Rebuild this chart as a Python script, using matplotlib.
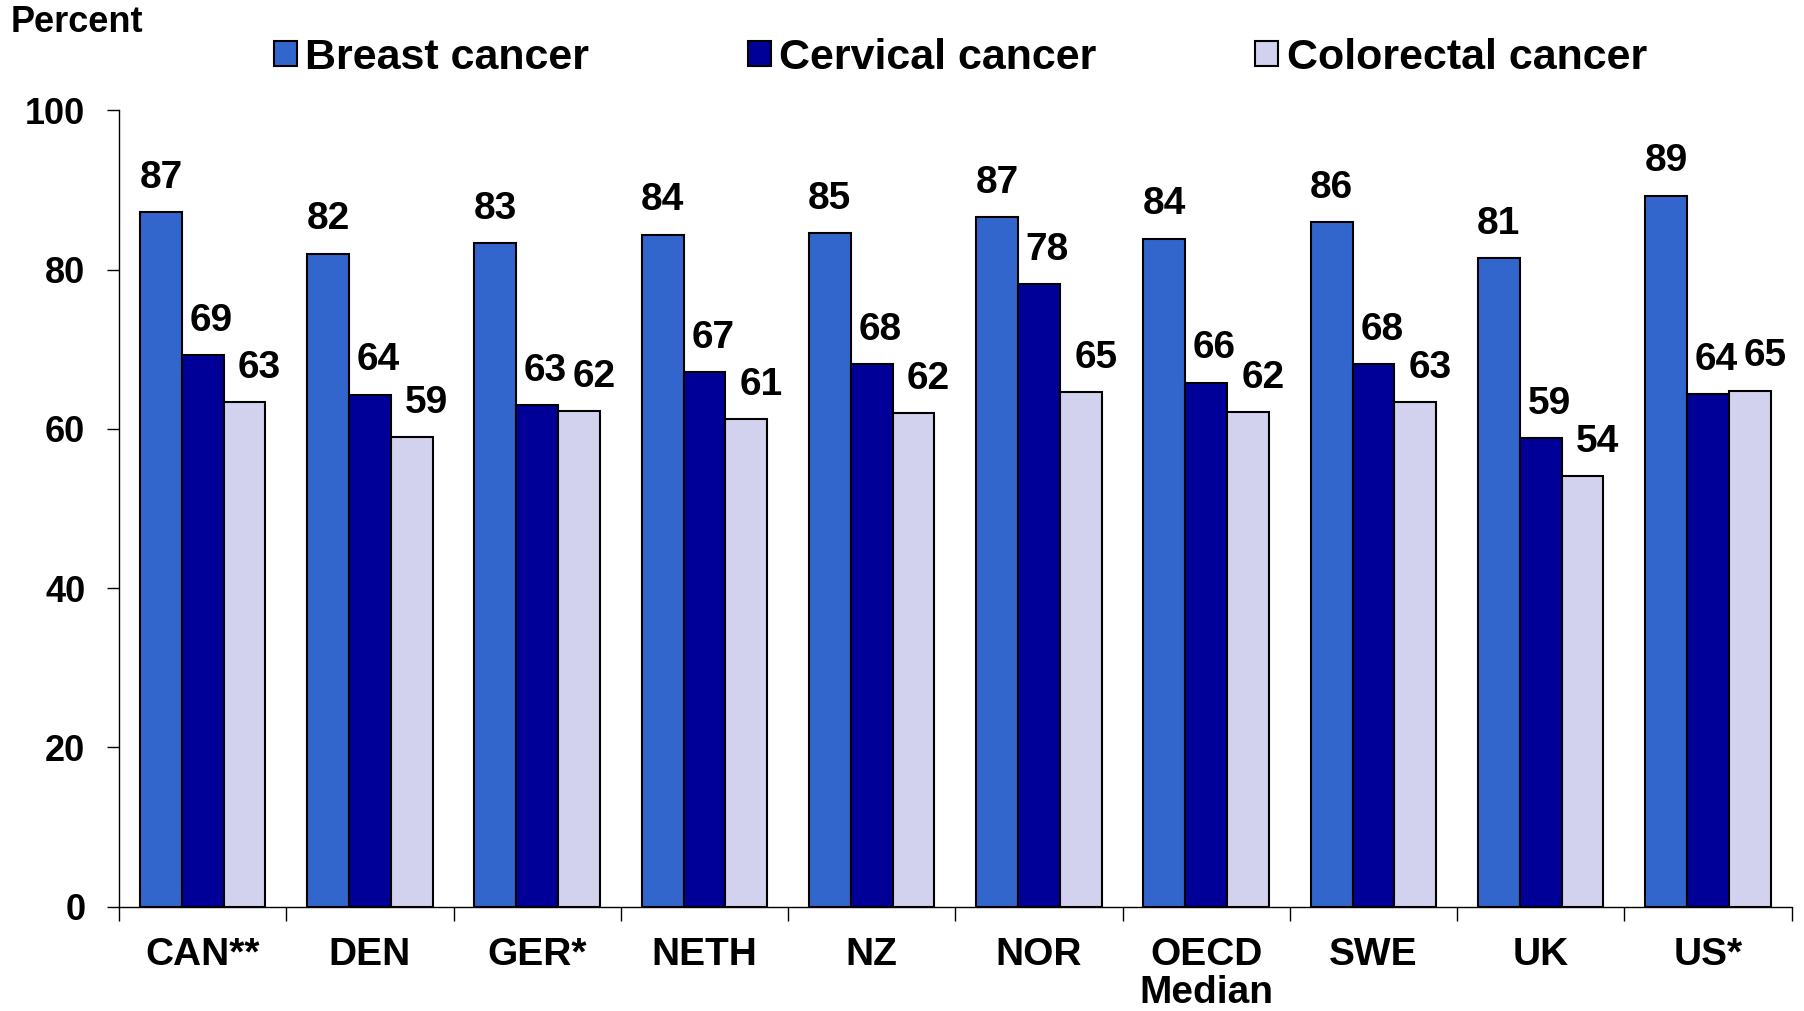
import matplotlib
matplotlib.use('Agg')
import matplotlib.pyplot as plt
import numpy as np
from matplotlib.patches import Patch

plt.rcParams['font.family'] = ['Liberation Sans', 'DejaVu Sans']
plt.rcParams['font.weight'] = 'bold'

countries = ['CAN**', 'DEN', 'GER*', 'NETH', 'NZ', 'NOR', 'OECD\nMedian', 'SWE', 'UK', 'US*']
breast = [87.2, 82.0, 83.3, 84.4, 84.6, 86.6, 83.9, 86.0, 81.4, 89.3]
cervical = [69.3, 64.3, 63.0, 67.1, 68.1, 78.2, 65.8, 68.1, 58.8, 64.4]
colorectal = [63.4, 59.0, 62.2, 61.2, 62.0, 64.6, 62.1, 63.4, 54.1, 64.8]
series_names = ['Breast cancer', 'Cervical cancer', 'Colorectal cancer']
yticks = [0, 20, 40, 60, 80, 100]

colors = ['#3366CC', '#000099', '#D2D2EE']

fig = plt.figure(figsize=(18.04, 10.11), dpi=100)
ax = fig.add_axes([0.066, 0.1033, 0.9271, 0.7875])

x = np.arange(len(countries))
w = 0.25
label_dx = [0.0, 0.05, 0.09]
for k, (vals, col) in enumerate(zip([breast, cervical, colorectal], colors)):
    xs = x + (k - 1) * w
    ax.bar(xs, vals, w, color=col, edgecolor='black', linewidth=1.5)
    for xi, v in zip(xs, vals):
        ax.text(xi + label_dx[k], v + 4.3, f'{v:.0f}', ha='center', va='center',
                fontsize=28, fontweight='bold')

ax.set_xlim(-0.5, len(countries) - 0.5)
ax.set_ylim(0, 100)
ax.set_xticks(x)
ax.set_xticklabels(countries, fontsize=28, linespacing=1.08)
ax.set_xticks(np.arange(-0.5, len(countries), 1), minor=True)
ax.tick_params(axis='x', which='major', length=0, pad=22)
ax.tick_params(axis='x', which='minor', length=10, width=1)
ax.set_yticks(yticks)
ax.tick_params(axis='y', length=8.3, width=1, pad=16, labelsize=26)
for s in ['top', 'right']:
    ax.spines[s].set_visible(False)
for s in ['left', 'bottom']:
    ax.spines[s].set_linewidth(1)

handles = [Patch(facecolor=c, edgecolor='black', linewidth=1.5) for c in colors]
fig.legend(handles, series_names, loc='center left', bbox_to_anchor=(274 / 1804, 1 - 58 / 1011),
           ncol=3, frameon=False, fontsize=31, handlelength=0.53, handleheight=0.53,
           handletextpad=0.2, columnspacing=3.68, borderpad=0, borderaxespad=0)

fig.text(11 / 1804, 1 - 23 / 1011, 'Percent', fontsize=26, va='center', ha='left')

fig.savefig('out.png', dpi=100)
